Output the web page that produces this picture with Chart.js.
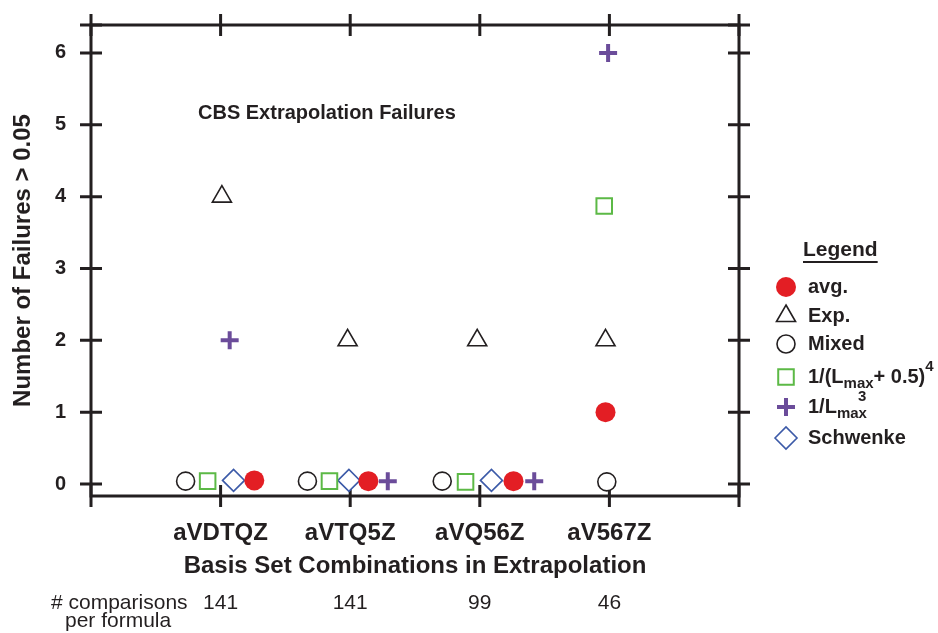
<!DOCTYPE html>
<html>
<head>
<meta charset="utf-8">
<title>CBS Extrapolation Failures</title>
<script src="https://cdn.jsdelivr.net/npm/chart.js@4/dist/chart.umd.min.js"></script>
<style>
  html, body { margin: 0; padding: 0; background: #fff; }
  #wrap { width: 938px; height: 633px; }
</style>
</head>
<body>
<div id="wrap"><canvas id="failures" width="938" height="633"></canvas></div>
<script>
// x categories sit at 1..4 on a linear axis running 0..5
const categories = ['aVDTQZ', 'aVTQ5Z', 'aVQ56Z', 'aV567Z'];
const comparisons = [141, 141, 99, 46];
const yTicks = [0, 1, 2, 3, 4, 5, 6];

// each formula is drawn a little to the side of its category
const avgX = [1.26, 2.14, 3.26, 3.97];
const avgY = [0.05, 0.04, 0.04, 1];
const expX = [1.01, 1.98, 2.98, 3.97];
const expY = [4, 2, 2, 2];
const mixedX = [0.73, 1.67, 2.71, 3.98];
const mixedY = [0.04, 0.04, 0.04, 0.03];
const lmax4X = [0.90, 1.84, 2.89, 3.96];
const lmax4Y = [0.04, 0.04, 0.03, 3.87];
const lmax3X = [1.07, 2.29, 3.42, 3.99];
const lmax3Y = [2, 0.04, 0.04, 6];
const schwenkeX = [1.10, 1.99, 3.09];
const schwenkeY = [0.05, 0.05, 0.05];

const ink = '#231f20';
const font = "'Liberation Sans', Arial, Helvetica, sans-serif";
Chart.defaults.font.family = font;

function pts(xs, ys) {
  return xs.map((x, i) => ({ x: x, y: ys[i] }));
}

// legend text with sub/superscripts
const legendRich = [
  [['avg.', '']],
  [['Exp.', '']],
  [['Mixed', '']],
  [['1/(L', ''], ['max', 'sub'], ['+ 0.5)', ''], ['4', 'sup']],
  [['1/L', ''], ['max', 'sub'], ['3', 'sup', -9]],
  [['Schwenke', '']]
];

const framePlugin = {
  id: 'frame',
  beforeDatasetsDraw(chart) {
    const { ctx, chartArea: a, scales } = chart;
    const xs = scales.x, ys = scales.y;
    const t = 11;
    ctx.save();
    ctx.strokeStyle = ink;
    ctx.lineWidth = 3;
    ctx.lineCap = 'butt';
    ctx.strokeRect(a.left, a.top, a.right - a.left, a.bottom - a.top);
    ctx.beginPath();
    for (let v = xs.min; v <= xs.max; v++) {
      const px = xs.getPixelForValue(v);
      ctx.moveTo(px, a.top - t); ctx.lineTo(px, a.top + t);
      ctx.moveTo(px, a.bottom - t); ctx.lineTo(px, a.bottom + t);
    }
    yTicks.concat([ys.max]).forEach(v => {
      const py = ys.getPixelForValue(v);
      ctx.moveTo(a.left - t, py); ctx.lineTo(a.left + t, py);
      ctx.moveTo(a.right - t, py); ctx.lineTo(a.right + t, py);
    });
    ctx.stroke();
    ctx.restore();
  },
  afterDraw(chart) {
    const { ctx, scales } = chart;
    ctx.save();
    ctx.fillStyle = ink;
    ctx.textBaseline = 'middle';

    // note inside the plot
    ctx.font = 'bold 20px ' + font;
    ctx.textAlign = 'left';
    ctx.fillText('CBS Extrapolation Failures', 198, 113);

    // comparisons row under the axis title
    ctx.font = '21px ' + font;
    ctx.fillText('# comparisons', 51, 603);
    ctx.fillText('per formula', 65, 621);
    ctx.textAlign = 'center';
    comparisons.forEach((n, i) => {
      ctx.fillText(String(n), scales.x.getPixelForValue(i + 1), 603);
    });

    // legend
    ctx.textAlign = 'left';
    ctx.font = 'bold 21px ' + font;
    ctx.fillText('Legend', 803, 250);
    ctx.fillRect(803, 261, ctx.measureText('Legend').width, 2);

    const rows = [287, 316, 344, 377, 407, 438];
    chart.data.datasets.forEach((ds, i) => {
      const y = rows[i];
      ctx.save();
      ctx.fillStyle = ds.pointBackgroundColor;
      ctx.strokeStyle = ds.pointBorderColor;
      ctx.lineWidth = ds.pointBorderWidth;
      Chart.helpers.drawPoint(ctx, {
        pointStyle: ds.pointStyle,
        radius: ds.pointRadius,
        borderWidth: ds.pointBorderWidth,
        rotation: 0
      }, 786, y);
      ctx.restore();

      let x = 808;
      legendRich[i].forEach(seg => {
        const [txt, kind, dx] = seg;
        x += dx || 0;
        if (kind === 'sub') {
          ctx.font = 'bold 15px ' + font;
          ctx.fillText(txt, x, y + 7);
        } else if (kind === 'sup') {
          ctx.font = 'bold 15px ' + font;
          ctx.fillText(txt, x, y - 10);
        } else {
          ctx.font = 'bold 20px ' + font;
          ctx.fillText(txt, x, y);
        }
        x += ctx.measureText(txt).width;
      });
    });
    ctx.restore();
  }
};

new Chart(document.getElementById('failures'), {
  type: 'scatter',
  data: {
    datasets: [
      {
        label: 'avg.', data: pts(avgX, avgY),
        pointStyle: 'circle', pointRadius: 10, pointBorderWidth: 0,
        pointBackgroundColor: '#e31e24', pointBorderColor: '#e31e24'
      },
      {
        label: 'Exp.', data: pts(expX, expY),
        pointStyle: 'triangle', pointRadius: 11, pointBorderWidth: 1.6,
        pointBackgroundColor: '#ffffff', pointBorderColor: ink
      },
      {
        label: 'Mixed', data: pts(mixedX, mixedY),
        pointStyle: 'circle', pointRadius: 9, pointBorderWidth: 1.6,
        pointBackgroundColor: '#ffffff', pointBorderColor: ink
      },
      {
        label: '1/(Lmax+ 0.5)^4', data: pts(lmax4X, lmax4Y),
        pointStyle: 'rect', pointRadius: 11, pointBorderWidth: 2,
        pointBackgroundColor: '#ffffff', pointBorderColor: '#5cb946'
      },
      {
        label: '1/Lmax^3', data: pts(lmax3X, lmax3Y),
        pointStyle: 'cross', pointRadius: 9, pointBorderWidth: 4,
        pointBackgroundColor: '#6b4c9a', pointBorderColor: '#6b4c9a'
      },
      {
        label: 'Schwenke', data: pts(schwenkeX, schwenkeY),
        pointStyle: 'rectRot', pointRadius: 11, pointBorderWidth: 1.6,
        pointBackgroundColor: '#ffffff', pointBorderColor: '#3c5aa8'
      }
    ]
  },
  options: {
    responsive: false,
    devicePixelRatio: 1,
    animation: false,
    events: [],
    clip: false,
    layout: { padding: { left: 5, right: 199, top: 25, bottom: 48 } },
    plugins: {
      legend: { display: false },
      tooltip: { enabled: false }
    },
    scales: {
      x: {
        type: 'linear', min: 0, max: 5,
        afterBuildTicks: s => { s.ticks = categories.map((c, i) => ({ value: i + 1 })); },
        afterFit: s => { s.height = 89; s.paddingLeft = 0; s.paddingRight = 0; },
        ticks: {
          callback: v => categories[v - 1],
          font: { size: 24, weight: 'bold' }, color: ink,
          padding: 23, maxRotation: 0, autoSkip: false
        },
        grid: { display: false, drawTicks: false, tickLength: 0 },
        border: { display: false },
        title: {
          display: true, text: 'Basis Set Combinations in Extrapolation',
          font: { size: 24, weight: 'bold' }, color: ink,
          padding: { top: 0, bottom: 4 }
        }
      },
      y: {
        min: -0.167, max: 6.389,
        afterBuildTicks: s => { s.ticks = yTicks.map(v => ({ value: v })); },
        afterFit: s => { s.width = 86; s.paddingTop = 0; s.paddingBottom = 0; },
        ticks: { font: { size: 20, weight: 'bold' }, color: ink, padding: 25 },
        grid: { display: false, drawTicks: false, tickLength: 0 },
        border: { display: false },
        title: {
          display: true, text: 'Number of Failures > 0.05',
          font: { size: 24, weight: 'bold' }, color: ink,
          padding: { top: 4, bottom: 16 }
        }
      }
    }
  },
  plugins: [framePlugin]
});
</script>
</body>
</html>
